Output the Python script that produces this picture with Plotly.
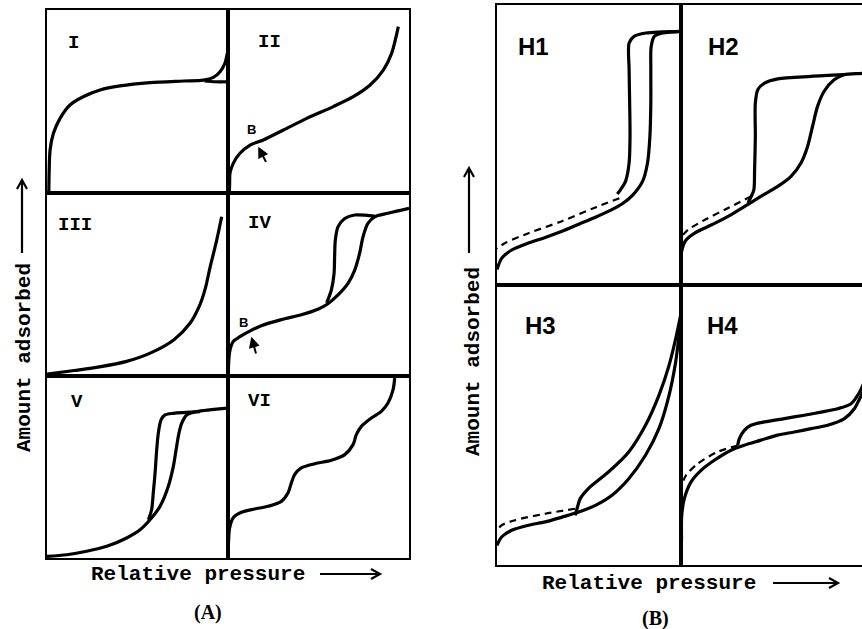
import math
import plotly.graph_objects as go

W, H = 862, 629

# ---------------- data: each cell uses relative pressure (x) and amount adsorbed (y), 0..1 ----------------
# Panel A (IUPAC isotherm types)
t1_ads_x = [0.01, 0.012, 0.017, 0.035, 0.072, 0.127, 0.2, 0.293, 0.403, 0.569, 0.753, 0.864, 0.919, 0.956, 0.983, 0.996]
t1_ads_y = [0.0, 0.12, 0.235, 0.325, 0.408, 0.481, 0.526, 0.563, 0.585, 0.603, 0.612, 0.617, 0.632, 0.663, 0.709, 0.764]
t1_des_x = [1.0, 0.93, 0.87]
t1_des_y = [0.608, 0.608, 0.612]

t2_x = [0.007, 0.009, 0.011, 0.029, 0.066, 0.122, 0.195, 0.306, 0.435, 0.582, 0.692, 0.785, 0.858, 0.904, 0.941]
t2_y = [0.0, 0.05, 0.108, 0.162, 0.217, 0.262, 0.290, 0.344, 0.408, 0.472, 0.526, 0.590, 0.672, 0.763, 0.909]

t3_x = [0.0, 0.15, 0.29, 0.44, 0.57, 0.70, 0.79, 0.845, 0.875, 0.90, 0.937, 0.965]
t3_y = [0.01, 0.03, 0.05, 0.08, 0.125, 0.197, 0.288, 0.39, 0.48, 0.59, 0.74, 0.87]

t4_ads_x = [0.002, 0.004, 0.011, 0.03, 0.066, 0.12, 0.184, 0.295, 0.405, 0.497, 0.552, 0.608, 0.663, 0.70, 0.727, 0.746, 0.773, 0.81, 0.884, 1.0]
t4_ads_y = [0.0, 0.08, 0.142, 0.19, 0.215, 0.245, 0.275, 0.308, 0.335, 0.365, 0.395, 0.443, 0.506, 0.579, 0.670, 0.761, 0.834, 0.870, 0.889, 0.916]
t4_des_x = [0.81, 0.70, 0.645, 0.608, 0.593, 0.589, 0.586, 0.571, 0.545]
t4_des_y = [0.874, 0.880, 0.861, 0.816, 0.743, 0.652, 0.561, 0.47, 0.40]

t5_ads_x = [0.0, 0.109, 0.219, 0.330, 0.440, 0.514, 0.569, 0.624, 0.670, 0.698, 0.716, 0.729, 0.744, 0.772, 0.827, 1.0]
t5_ads_y = [0.009, 0.018, 0.037, 0.064, 0.110, 0.155, 0.210, 0.283, 0.393, 0.503, 0.612, 0.686, 0.740, 0.786, 0.804, 0.823]
t5_des_x = [0.845, 0.698, 0.652, 0.630, 0.615, 0.606, 0.597, 0.587, 0.578, 0.56]
t5_des_y = [0.804, 0.795, 0.786, 0.759, 0.686, 0.594, 0.466, 0.356, 0.265, 0.21]

t6_x = [0.002, 0.003, 0.009, 0.028, 0.074, 0.147, 0.221, 0.295, 0.331, 0.35, 0.368, 0.405, 0.479, 0.571, 0.645, 0.691, 0.709, 0.737, 0.792, 0.847, 0.884, 0.912, 0.921]
t6_y = [0.0, 0.09, 0.165, 0.220, 0.251, 0.269, 0.284, 0.311, 0.357, 0.412, 0.458, 0.495, 0.518, 0.537, 0.568, 0.623, 0.678, 0.723, 0.769, 0.806, 0.852, 0.925, 0.989]

# Panel B (hysteresis loop types)
h1_ads_x = [0.0, 0.025, 0.08, 0.171, 0.262, 0.353, 0.444, 0.535, 0.627, 0.681, 0.736, 0.791, 0.818, 0.831, 0.836, 0.836, 0.838, 0.855, 0.9, 1.0]
h1_ads_y = [0.055, 0.095, 0.125, 0.150, 0.170, 0.192, 0.217, 0.242, 0.27, 0.29, 0.32, 0.37, 0.436, 0.531, 0.65, 0.769, 0.852, 0.888, 0.9, 0.906]
h1_des_x = [1.0, 0.809, 0.745, 0.718, 0.718, 0.721, 0.723, 0.718, 0.699, 0.672, 0.654]
h1_des_y = [0.906, 0.9, 0.888, 0.864, 0.769, 0.650, 0.531, 0.436, 0.371, 0.341, 0.325]
h1_dash_x = [0.665, 0.535, 0.353, 0.171, 0.044, 0.0]
h1_dash_y = [0.31, 0.277, 0.228, 0.185, 0.150, 0.13]

h2_ads_x = [0.0, 0.022, 0.076, 0.167, 0.256, 0.346, 0.436, 0.526, 0.598, 0.652, 0.688, 0.715, 0.742, 0.778, 0.832, 0.886, 0.969, 1.0]
h2_ads_y = [0.11, 0.156, 0.186, 0.215, 0.245, 0.281, 0.317, 0.352, 0.388, 0.436, 0.495, 0.567, 0.638, 0.692, 0.733, 0.751, 0.755, 0.756]
h2_des_x = [0.886, 0.706, 0.526, 0.454, 0.418, 0.404, 0.404, 0.400, 0.396, 0.382, 0.364]
h2_des_y = [0.751, 0.745, 0.736, 0.721, 0.698, 0.650, 0.531, 0.412, 0.340, 0.317, 0.293]
h2_dash_x = [0.382, 0.256, 0.13, 0.04, 0.004]
h2_dash_y = [0.317, 0.275, 0.233, 0.198, 0.174]

h3_ads_x = [0.0, 0.025, 0.08, 0.171, 0.262, 0.353, 0.444, 0.535, 0.625, 0.716, 0.807, 0.88, 0.935, 0.971, 0.989, 1.0]
h3_ads_y = [0.07, 0.1, 0.124, 0.142, 0.154, 0.171, 0.189, 0.213, 0.249, 0.308, 0.392, 0.487, 0.606, 0.725, 0.820, 0.892]
h3_des_x = [1.0, 0.971, 0.935, 0.88, 0.807, 0.716, 0.607, 0.498, 0.453, 0.435, 0.425]
h3_des_y = [0.898, 0.808, 0.713, 0.606, 0.499, 0.404, 0.333, 0.274, 0.238, 0.201, 0.177]
h3_dash_x = [0.425, 0.262, 0.098, 0.025, 0.0]
h3_dash_y = [0.201, 0.183, 0.160, 0.142, 0.124]

h4_ads_x = [0.003, 0.004, 0.018, 0.054, 0.109, 0.181, 0.272, 0.344, 0.435, 0.525, 0.616, 0.707, 0.797, 0.888, 0.942, 0.971, 1.0]
h4_ads_y = [0.09, 0.177, 0.237, 0.296, 0.338, 0.374, 0.410, 0.428, 0.446, 0.464, 0.475, 0.487, 0.499, 0.523, 0.558, 0.594, 0.63]
h4_des_x = [1.0, 0.971, 0.924, 0.851, 0.761, 0.670, 0.562, 0.453, 0.380, 0.344, 0.317, 0.308]
h4_des_y = [0.66, 0.618, 0.576, 0.558, 0.546, 0.535, 0.523, 0.511, 0.499, 0.481, 0.451, 0.427]
h4_dash_x = [0.308, 0.199, 0.091, 0.027, 0.004]
h4_dash_y = [0.427, 0.404, 0.362, 0.320, 0.285]

cell_names = ["I", "II", "III", "IV", "V", "VI", "H1", "H2", "H3", "H4"]
# label position inside each cell (relative pressure, amount)
label_x = [0.144, 0.232, 0.155, 0.175, 0.168, 0.175, 0.20, 0.23, 0.235, 0.226]
label_y = [0.82, 0.827, 0.825, 0.834, 0.859, 0.861, 0.852, 0.852, 0.856, 0.856]

axis_title_x = "Relative pressure"
axis_title_y = "Amount adsorbed"
panel_tags = ["(A)", "(B)"]

# ---------------- layout geometry (pixels: left, top, right, bottom) ----------------
frames = [
    (47, 10, 228, 193), (228, 10, 409, 193),
    (47, 193, 228, 376), (228, 193, 409, 376),
    (47, 376, 228, 558), (228, 376, 409, 558),
    (497, 5, 681, 285), (681, 5, 862, 285),
    (497, 285, 681, 565), (681, 285, 862, 565),
]
B_CELL_W = 184.0


def px(x):
    return x / W


def py(y):
    return 1 - y / H


fig = go.Figure()
layout = {}
for i, (l, t, r, b) in enumerate(frames, start=1):
    clipped = (r == W)
    xmax = (r - l) / B_CELL_W if clipped else 1.0
    xa = "xaxis" if i == 1 else f"xaxis{i}"
    ya = "yaxis" if i == 1 else f"yaxis{i}"
    common = dict(showgrid=False, zeroline=False, showticklabels=False, ticks="",
                  showline=True, linecolor="black", linewidth=2, fixedrange=True)
    layout[xa] = dict(domain=[px(l), px(r)], range=[0, xmax], mirror=True,
                      anchor=f"y{i}" if i > 1 else "y", **common)
    layout[ya] = dict(domain=[py(b), py(t)], range=[0, 1], mirror=not clipped,
                      anchor=f"x{i}" if i > 1 else "x", **common)


def ax_ids(i):
    return ("x" if i == 1 else f"x{i}"), ("y" if i == 1 else f"y{i}")


def add_curve(i, xs, ys, dashed=False):
    xr, yr = ax_ids(i)
    fig.add_trace(go.Scatter(
        x=xs, y=ys, mode="lines", xaxis=xr, yaxis=yr, showlegend=False, hoverinfo="skip",
        line=dict(color="black", width=2.2 if dashed else 3.2, shape="spline", smoothing=0.8,
                  dash="7px,5px" if dashed else "solid")))


add_curve(1, t1_ads_x, t1_ads_y)
add_curve(1, t1_des_x, t1_des_y)
add_curve(2, t2_x, t2_y)
add_curve(3, t3_x, t3_y)
add_curve(4, t4_ads_x, t4_ads_y)
add_curve(4, t4_des_x, t4_des_y)
add_curve(5, t5_ads_x, t5_ads_y)
add_curve(5, t5_des_x, t5_des_y)
add_curve(6, t6_x, t6_y)
add_curve(7, h1_ads_x, h1_ads_y)
add_curve(7, h1_des_x, h1_des_y)
add_curve(7, h1_dash_x, h1_dash_y, dashed=True)
add_curve(8, h2_ads_x, h2_ads_y)
add_curve(8, h2_des_x, h2_des_y)
add_curve(8, h2_dash_x, h2_dash_y, dashed=True)
add_curve(9, h3_ads_x, h3_ads_y)
add_curve(9, h3_des_x, h3_des_y)
add_curve(9, h3_dash_x, h3_dash_y, dashed=True)
add_curve(10, h4_ads_x, h4_ads_y)
add_curve(10, h4_des_x, h4_des_y)
add_curve(10, h4_dash_x, h4_dash_y, dashed=True)

annotations = []
mono = dict(family="Liberation Mono", size=19, color="black", weight="bold")
sans = dict(family="Liberation Sans", size=24, color="black", weight="bold")
for i, name in enumerate(cell_names, start=1):
    xr, yr = ax_ids(i)
    annotations.append(dict(x=label_x[i - 1], y=label_y[i - 1], xref=xr, yref=yr, text=name,
                            xanchor="center", yanchor="middle",
                            showarrow=False, font=mono if i <= 6 else sans))

# point "B" markers with their small arrows (types II and IV)
b_marks = [(2, 0.131, 0.345, 0.167, 0.253, 0.214, 0.162),
           (4, 0.088, 0.293, 0.129, 0.215, 0.157, 0.115)]
for i, lx, ly, hx, hy, tx, ty in b_marks:
    xr, yr = ax_ids(i)
    annotations.append(dict(x=lx, y=ly, xref=xr, yref=yr, text="B", showarrow=False,
                            xanchor="center", yanchor="middle",
                            font=dict(family="Liberation Sans", size=13, color="black", weight="bold")))
    annotations.append(dict(x=hx, y=hy, xref=xr, yref=yr, ax=tx, ay=ty, axref=xr, ayref=yr,
                            text="", showarrow=True, arrowhead=2, arrowsize=1.1, arrowwidth=2,
                            arrowcolor="black"))

title_font = dict(family="Liberation Mono", size=21, color="black", weight="bold")
tag_font = dict(family="Liberation Serif", size=20, color="black", weight="bold")
centered = dict(xref="paper", yref="paper", xanchor="center", yanchor="middle", showarrow=False)
annotations += [
    dict(x=px(198), y=py(574), text=axis_title_x, font=title_font, **centered),
    dict(x=px(649), y=py(583), text=axis_title_x, font=title_font, **centered),
    dict(x=px(24), y=py(358), text=axis_title_y, font=title_font, textangle=-90, **centered),
    dict(x=px(473), y=py(362), text=axis_title_y, font=title_font, textangle=-90, **centered),
    dict(x=px(208), y=py(612), text=panel_tags[0], font=tag_font, **centered),
    dict(x=px(655), y=py(618), text=panel_tags[1], font=tag_font, **centered),
]


def arrow_path(x0, y0, x1, y1, head=9, spread=5):
    # straight arrow with open chevron head, given in pixel positions
    dx, dy = x1 - x0, y1 - y0
    n = math.hypot(dx, dy)
    ux, uy = dx / n, dy / n
    bx, by = x1 - ux * head, y1 - uy * head
    p1 = (bx - uy * spread, by + ux * spread)
    p2 = (bx + uy * spread, by - ux * spread)
    return (f"M {px(x0)},{py(y0)} L {px(x1)},{py(y1)} "
            f"M {px(p1[0])},{py(p1[1])} L {px(x1)},{py(y1)} L {px(p2[0])},{py(p2[1])}")


arrows = [(320, 574, 380, 574), (773, 583, 838, 583), (22, 253, 22, 180), (469, 253, 469, 168)]
shapes = [dict(type="path", xref="paper", yref="paper", path=arrow_path(*a),
               line=dict(color="black", width=2.2)) for a in arrows]

fig.update_layout(
    width=W, height=H, margin=dict(l=0, r=0, t=0, b=0),
    paper_bgcolor="white", plot_bgcolor="white", hovermode=False,
    annotations=annotations, shapes=shapes, showlegend=False,
    **layout,
)

fig.write_html("out.html", config={"displayModeBar": False, "staticPlot": True},
               post_script="document.body.style.margin='0';document.body.style.overflow='hidden';")
